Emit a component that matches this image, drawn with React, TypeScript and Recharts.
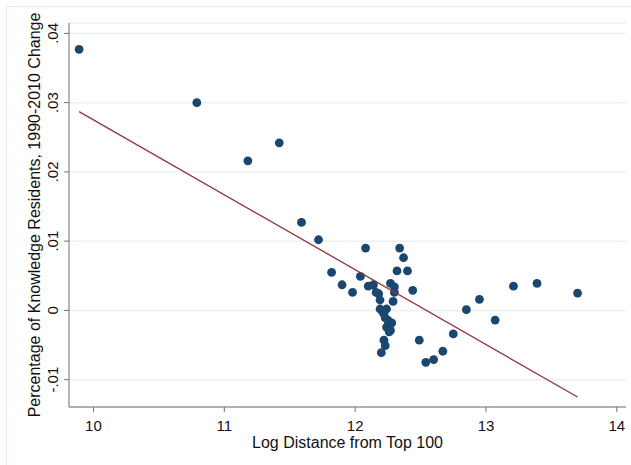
import React from 'react';
import { ScatterChart, Scatter, XAxis, YAxis, CartesianGrid, Label } from 'recharts';

// log distance from top 100 (x) and 1990-2010 change (y)
const logDistance = [
    9.89, 10.79, 11.18, 11.42, 11.59, 11.72, 11.82, 11.9, 11.98, 12.04,
    12.08, 12.1, 12.14, 12.16, 12.18, 12.19, 12.27, 12.3, 12.3, 12.29,
    12.32, 12.34, 12.37, 12.4, 12.44, 12.19, 12.24, 12.22, 12.23, 12.24,
    12.27, 12.26, 12.22, 12.23, 12.2, 12.49, 12.54, 12.6, 12.67, 12.75,
    12.85, 12.95, 13.07, 13.21, 13.39, 13.7, 12.21, 12.25, 12.28,
];
const knowledgeChange = [
    0.0377, 0.03, 0.0216, 0.0242, 0.0127, 0.0102, 0.0055, 0.0037, 0.0026, 0.0049,
    0.009, 0.0035, 0.0037, 0.0026, 0.0024, 0.0015, 0.0039, 0.0034, 0.0026, 0.0013,
    0.0057, 0.009, 0.0076, 0.0057, 0.0029, 0.0002, 0.0002, -0.0005, -0.0011, -0.0024,
    -0.0029, -0.0031, -0.0043, -0.0051, -0.0061, -0.0043, -0.0075, -0.0071, -0.0059, -0.0034,
    0.0001, 0.0016, -0.0014, 0.0035, 0.0039, 0.0025, -0.0002, -0.0014, -0.0018,
];

// fitted line endpoints
const fitX = [9.89, 13.7];
const fitY = [0.0287, -0.0125];

const xTicks = [10, 11, 12, 13, 14];
const yTicks = [-0.01, 0, 0.01, 0.02, 0.03, 0.04];
const yTickLabels = ['-.01', '0', '.01', '.02', '.03', '.04'];

const points = logDistance.map((x, i) => ({ x, y: knowledgeChange[i] }));
const fitPoints = fitX.map((x, i) => ({ x, y: fitY[i] }));

const FONT = '"Liberation Sans", Arial, sans-serif';
const AXIS = '#6f6f6f';

const YTick = (props: any) => {
    const { x, y, payload } = props;
    const idx = yTicks.indexOf(payload.value);
    const bx = x - 4;
    return (
        <text x={bx} y={y} transform={`rotate(-90, ${bx}, ${y})`} textAnchor="middle" fontSize={15} fill="#111" fontFamily={FONT}>
            {idx >= 0 ? yTickLabels[idx] : payload.value}
        </text>
    );
};

export default function App() {
    return (
        <div style={{ position: 'absolute', left: 0, top: 0, width: 631, height: 465, background: '#fff', overflow: 'hidden' }}>
            <div style={{ position: 'absolute', left: 6, top: 6, width: 640, height: 480, border: '1px solid #e3ecee' }} />
            <ScatterChart width={631} height={465} margin={{ top: 23, right: 5, left: 0, bottom: 0 }} style={{ fontFamily: FONT }}>
                <CartesianGrid horizontal vertical={false} stroke="#eaf2f3" strokeWidth={1.5} />
                <XAxis
                    type="number"
                    dataKey="x"
                    domain={[9.813, 14.07]}
                    ticks={xTicks}
                    allowDataOverflow
                    height={58}
                    stroke={AXIS}
                    tickSize={5}
                    tickMargin={8}
                    tick={{ fill: '#111', fontSize: 15 }}
                >
                    <Label
                        content={({ viewBox }: any) => (
                            <text x={viewBox.x + viewBox.width / 2} y={viewBox.y + 41} textAnchor="middle" fontSize={16} fill="#111" fontFamily={FONT}>
                                Log Distance from Top 100
                            </text>
                        )}
                    />
                </XAxis>
                <YAxis
                    type="number"
                    dataKey="y"
                    domain={[-0.01395, 0.0415]}
                    ticks={yTicks}
                    allowDataOverflow
                    width={69}
                    stroke={AXIS}
                    tickSize={5}
                    tick={<YTick />}
                >
                    <Label
                        content={({ viewBox }: any) => {
                            const cx = 40;
                            const cy = viewBox.y + viewBox.height / 2;
                            return (
                                <text x={cx} y={cy} transform={`rotate(-90, ${cx}, ${cy})`} textAnchor="middle" fontSize={16} fill="#111" fontFamily={FONT}>
                                    Percentage of Knowledge Residents, 1990-2010 Change
                                </text>
                            );
                        }}
                    />
                </YAxis>
                <Scatter data={points} fill="#1a476f" isAnimationActive={false} shape={(p: any) => <circle cx={p.cx} cy={p.cy} r={4.4} fill="#1a476f" />} />
                <Scatter
                    data={fitPoints}
                    line={{ stroke: '#90353b', strokeWidth: 1.3 }}
                    isAnimationActive={false}
                    shape={() => <g />}
                />
            </ScatterChart>
        </div>
    );
}
